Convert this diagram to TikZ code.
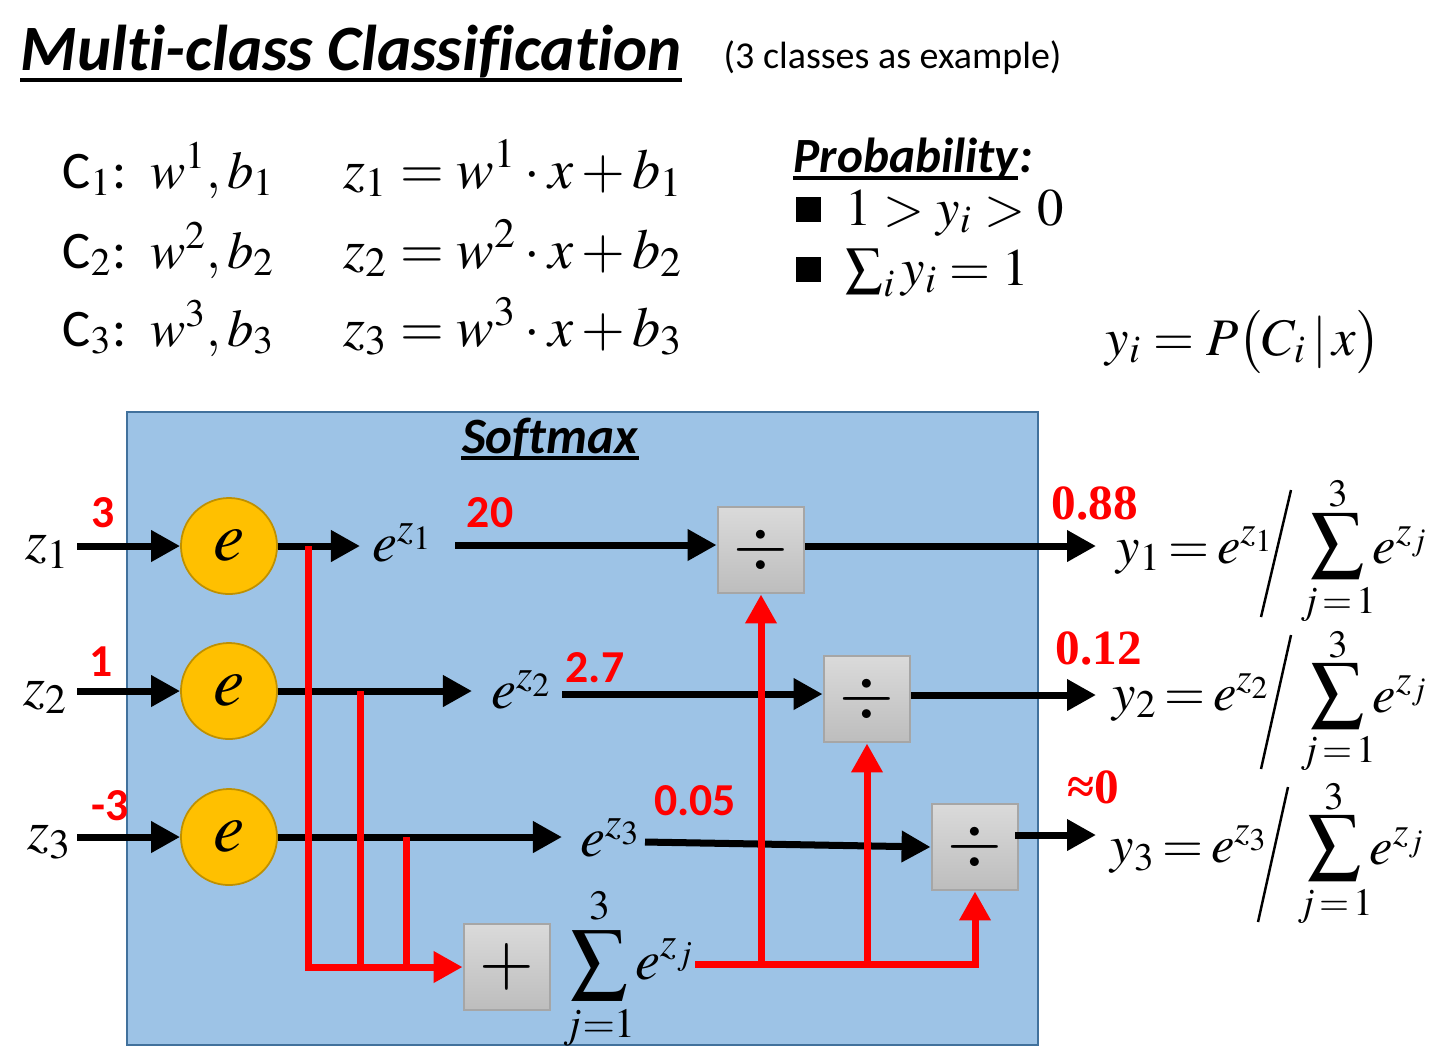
\documentclass[tikz,border=0pt]{standalone}
\usepackage{mathptmx}
\usepackage[no-math]{fontspec}
\setmainfont{Carlito}[Ligatures=NoCommon]
\newfontfamily\timesf{Liberation Serif}
\usetikzlibrary{arrows.meta,calc}
\definecolor{panelblue}{HTML}{9DC3E6}
\definecolor{panelborder}{HTML}{41719C}
\definecolor{gold}{HTML}{FFC000}
\definecolor{goldborder}{HTML}{BF9000}
\definecolor{boxtop}{HTML}{DADADA}
\definecolor{boxbot}{HTML}{BDBDBD}
\definecolor{boxborder}{HTML}{A6A6A6}
\newcommand\pxf[1]{\fontsize{#1}{#1}\selectfont}
\newcommand\teq{\mkern-1.5mu=\mkern-1.5mu}
\newcommand\bigsig{\raisebox{-0.5ex}[0.55em][0.55em]{$\displaystyle\sum$}}
\tikzset{
  arr/.style={line width=0.07cm, -{Triangle[length=0.29cm,width=0.3cm]}},
  rarr/.style={red, line width=0.07cm, -{Triangle[length=0.29cm,width=0.3cm]}},
  rline/.style={red, line width=0.07cm},
  circ/.style={circle, minimum size=0.96cm, inner sep=0pt, fill=gold, draw=goldborder, line width=0.5pt, font=\pxf{20}},
  opbox/.style={rectangle, minimum width=0.86cm, minimum height=0.86cm, inner sep=0pt, top color=boxtop, bottom color=boxbot, draw=boxborder, line width=0.8pt, font=\pxf{20}},
  rednum/.style={red, font=\pxf{13}\bfseries, inner sep=0pt},
  redtimes/.style={red, font=\pxf{14}\timesf\bfseries, inner sep=0pt},
  mlabel/.style={font=\pxf{16}, inner sep=0pt},
  toptext/.style={font=\pxf{15}, inner sep=0pt, anchor=base west},
  rightf/.style={font=\pxf{15}, inner sep=0pt},
  sigf/.style={font=\pxf{15}, inner sep=0pt, anchor=base},
  limf/.style={font=\pxf{11}, inner sep=0pt},
  slash/.style={line width=0.7pt},
}
\begin{document}
\begin{tikzpicture}[x=0.01cm,y=-0.01cm]
\useasboundingbox (0,0) rectangle (1446,1047);
\fill[white] (0,0) rectangle (1446,1047);

% ---------- title ----------
\node[anchor=base west, inner sep=0pt, font=\pxf{18.4}\bfseries\itshape] (title) at (20,70) {Multi-class Classification};
\draw[line width=1.1pt] ([yshift=-0.1cm]title.base west) -- ([yshift=-0.1cm]title.base east);
\node[anchor=base west, inner sep=0pt, font=\pxf{10.8}] (note) at (723,68) {(3 classes as example)};

% ---------- class definitions ----------
\node[toptext] (c1def) at (62,188) {C$_1$:\ \ $w^1, b_1$};
\node[toptext] (c2def) at (62,268) {C$_2$:\ \ $w^2, b_2$};
\node[toptext] (c3def) at (62,346) {C$_3$:\ \ $w^3, b_3$};
\node[toptext, font=\pxf{16}] (z1def) at (343,188) {$z_1 = w^1 \cdot x + b_1$};
\node[toptext, font=\pxf{16}] (z2def) at (343,268) {$z_2 = w^2 \cdot x + b_2$};
\node[toptext, font=\pxf{16}] (z3def) at (343,346) {$z_3 = w^3 \cdot x + b_3$};

% ---------- probability ----------
\node[anchor=base west, inner sep=0pt, font=\pxf{14}\bfseries\itshape] (prob) at (793,172) {Probability};
\node[anchor=base west, inner sep=0pt, font=\pxf{14}\bfseries\itshape] (probcolon) at (prob.base east) {:};
\draw[line width=0.9pt] ([yshift=-0.06cm]prob.base west) -- ([yshift=-0.06cm]prob.base east);
\node[toptext] (bul1) at (795,225) {\raisebox{0.03cm}{\rule{0.25cm}{0.25cm}}\hspace{0.25cm}$1 > y_i > 0$};
\node[toptext] (bul2) at (795,285) {\raisebox{0.03cm}{\rule{0.25cm}{0.25cm}}\hspace{0.25cm}$\sum_i y_i = 1$};
\node[anchor=base west, inner sep=0pt, font=\pxf{15}] (pdef) at (1105,355) {$y_i = P\bigl(C_i \,|\, x\bigr)$};

% ---------- softmax panel ----------
\draw[fill=panelblue, draw=panelborder, line width=0.6pt] (127,412) rectangle (1038,1045);
\node[anchor=base, inner sep=0pt, font=\pxf{14.5}\bfseries\itshape] (smx) at (550,453) {Softmax};
\draw[line width=0.9pt] ([yshift=-0.05cm]smx.base west) -- ([yshift=-0.05cm]smx.base east);

% exp circles
\node[circ] (c1) at (229,546) {$e$};
\node[circ] (c2) at (229,691) {$e$};
\node[circ] (c3) at (229,837) {$e$};

% inputs
\node[mlabel] (z1) at (48,552) {$z_1$};
\node[mlabel] (z2) at (46,697) {$z_2$};
\node[mlabel] (z3) at (50,842) {$z_3$};
\coordinate (z1s) at (77,546);
\coordinate (z2s) at (77,691);
\coordinate (z3s) at (77,837);
\draw[arr] (z1s) -- (c1.west);
\draw[arr] (z2s) -- (c2.west);
\draw[arr] (z3s) -- (c3.west);
\node[rednum] (n1) at (103,513) {3};
\node[rednum] (n2) at (101,662) {1};
\node[rednum] (n3) at (110,806) {-3};

% exp outputs
\node[mlabel] (e1) at (403,543) {$e^{z_1}$};
\node[mlabel] (e2) at (522,690) {$e^{z_2}$};
\node[mlabel] (e3) at (611,838) {$e^{z_3}$};
\coordinate (e1in) at (360,546);
\coordinate (e2in) at (472,691);
\coordinate (e3in) at (562,837);
\draw[arr] (c1.east) -- (e1in);
\draw[arr] (c2.east) -- (e2in);
\draw[arr] (c3.east) -- (e3in);
\node[rednum] (v1) at (490,513) {20};
\node[rednum] (v2) at (595,668) {2.7};
\node[rednum] (v3) at (695,801) {0.05};

% division boxes
\node[opbox] (d1) at (761,550) {$\div$};
\node[opbox] (d2) at (867,699) {$\div$};
\node[opbox] (d3) at (975,847) {$\div$};
\coordinate (e1out) at (455,545);
\coordinate (e2out) at (562,694);
\coordinate (e3out) at (645,842);
\draw[arr] (e1out) -- (d1.west |- e1out);
\draw[arr] (e2out) -- (d2.west |- e2out);
\draw[arr] (e3out) -- (d3.west);

% outputs
\coordinate (o1) at (1096,546);
\coordinate (o2) at (1096,695);
\coordinate (o3) at (1096,835);
\coordinate (d3out) at (1015,835);
\draw[arr] (d1.east |- o1) -- (o1);
\draw[arr] (d2.east |- o2) -- (o2);
\draw[arr] (d3out) -- (o3);
\node[redtimes] (p1) at (1095,503) {0.88};
\node[redtimes] (p2) at (1099,648) {0.12};
\node[redtimes] (p3) at (1093,787) {≈0};

% sum box
\node[opbox] (plus) at (507,967) {$+$};
\node[mlabel, anchor=west] (sum) at (563,969) {$\displaystyle\sum_{j=1}^{3}\! e^{z_j}$};

% red connections
\coordinate (r1) at (308,546);
\coordinate (r2) at (360,691);
\coordinate (r3) at (406,837);
\coordinate (sumout) at (695,964);
\draw[rarr] (r1) -- (r1 |- plus.west) -- (plus.west);
\draw[rline] (r2) -- (r2 |- plus.west);
\draw[rline] (r3) -- (r3 |- plus.west);
\draw[rarr] (sumout) -- (d3.south |- sumout) -- (d3.south);
\draw[rarr] (d1.south |- sumout) -- (d1.south);
\draw[rarr] (d2.south |- sumout) -- (d2.south);

% result formulas
\node[rightf, anchor=base west] (y1) at (1116,563) {$y_1\teq e^{z_1}$};
\node[rightf, anchor=base west] (y2) at (1112,710) {$y_2\teq e^{z_2}$};
\node[rightf, anchor=base west] (y3) at (1110,862) {$y_3\teq e^{z_3}$};
\node[sigf] (s1) at (1338,547) {\bigsig};
\node[sigf] (s2) at (1338,697) {\bigsig};
\node[sigf] (s3) at (1335,849) {\bigsig};
\node[limf] (u1) at (1338,494) {$3$};
\node[limf] (u2) at (1338,645) {$3$};
\node[limf] (u3) at (1334,797) {$3$};
\node[limf] (l1) at (1338,605) {$j\!=\!1$};
\node[limf] (l2) at (1338,754) {$j\!=\!1$};
\node[limf] (l3) at (1335,907) {$j\!=\!1$};
\node[rightf, anchor=base west] (x1) at (1372,563) {$e^{z_j}$};
\node[rightf, anchor=base west] (x2) at (1372,712) {$e^{z_j}$};
\node[rightf, anchor=base west] (x3) at (1369,864) {$e^{z_j}$};
\coordinate (sl1a) at (1261,617); \coordinate (sl1b) at (1291,490);
\coordinate (sl2a) at (1261,769); \coordinate (sl2b) at (1291,635);
\coordinate (sl3a) at (1258,922); \coordinate (sl3b) at (1288,787);
\draw[slash] (sl1a) -- (sl1b);
\draw[slash] (sl2a) -- (sl2b);
\draw[slash] (sl3a) -- (sl3b);
\end{tikzpicture}
\end{document}
